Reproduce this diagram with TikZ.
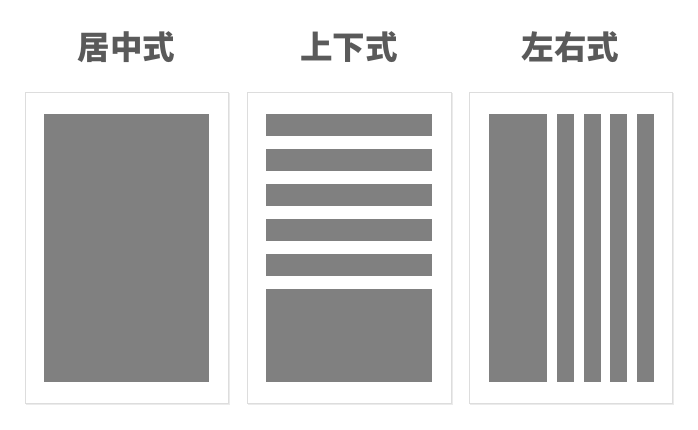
\documentclass[tikz,border=0pt]{standalone}
\usepackage{fontspec}
\newfontfamily\cjk{Noto Sans CJK SC}
\definecolor{bar}{HTML}{808080}
\definecolor{ttl}{HTML}{5A5A5A}
\definecolor{edge}{HTML}{DDDDDD}
\definecolor{shade}{HTML}{EBEBEB}
\begin{document}
\begin{tikzpicture}[x=1pt,y=-1pt,
  panel/.style={fill=white,draw=edge,line width=1pt},
  shadowbox/.style={fill=shade,draw=none},
  barbox/.style={fill=bar,draw=none},
  title/.style={font=\cjk\bfseries\fontsize{32.5}{32.5}\selectfont,text=ttl,inner sep=0pt,anchor=center}]
\useasboundingbox (0,0) rectangle (698,430);
% shadows
\fill[shadowbox] (26,93) rectangle (230,405);
\fill[shadowbox] (248,93) rectangle (453,405);
\fill[shadowbox] (470,93) rectangle (674,405);
% panels
\node[panel,minimum width=203pt,minimum height=311pt,inner sep=0pt,anchor=north west] (p1) at (25,92) {};
\node[panel,minimum width=204pt,minimum height=311pt,inner sep=0pt,anchor=north west] (p2) at (247,92) {};
\node[panel,minimum width=203pt,minimum height=311pt,inner sep=0pt,anchor=north west] (p3) at (469,92) {};
% titles
\node[title] (t1) at (126.5,47.5) {居中式};
\node[title] (t2) at (349,47.5) {上下式};
\node[title] (t3) at (570.5,47.5) {左右式};
% panel 1
\fill[barbox] (44,114) rectangle (209,382);
% panel 2
\foreach \y in {114,149,184,219,254}{\fill[barbox] (266,\y) rectangle (432,\y+22);}
\fill[barbox] (266,289) rectangle (432,382);
% panel 3
\fill[barbox] (489,114) rectangle (547,382);
\foreach \x in {557,583.5,610,637}{\fill[barbox] (\x,114) rectangle (\x+17,382);}
\end{tikzpicture}
\end{document}
